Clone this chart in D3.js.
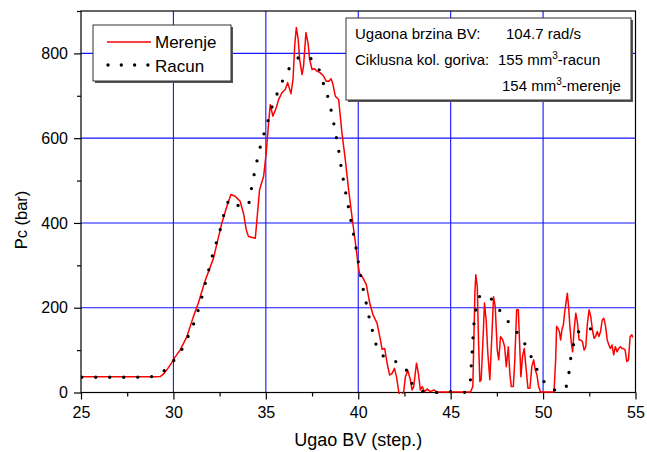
<!DOCTYPE html>
<html><head><meta charset="utf-8">
<script src="https://cdn.jsdelivr.net/npm/d3@7"></script>
<style>body{margin:0;background:#fff;} text{font-family:"Liberation Sans",Arial,sans-serif;fill:#000;}</style>
</head><body><svg id="c" width="647" height="452"></svg>
<script>
// ---- data ----
const xTicks=[25,30,35,40,45,50,55];
const xMinor=[27.5,32.5,37.5,42.5,47.5,52.5];
const yTicks=[0,200,400,600,800];
const yMinor=[100,300,500,700,900];
const xTitle="Ugao BV (step.)";
const yTitle="Pc (bar)";
const seriesNames=["Merenje","Racun"];

const merenjeAngle=[25,26,27,28,29,29.3,29.5,29.7,29.9,30.05,30.36,30.73,31.08,31.35,31.7,32.17,32.62,32.89,33.11,33.34,33.61,33.79,33.94,34.06,34.43,34.52,34.66,34.88,35.02,35.15,35.24,35.38,35.56,35.69,35.87,36.05,36.18,36.36,36.47,36.56,36.65,36.75,36.83,36.96,37.04,37.17,37.28,37.37,37.5,37.62,37.77,37.95,38.13,38.27,38.4,38.53,38.63,38.76,38.94,39.12,39.3,39.48,39.66,39.84,40.0,40.06,40.26,40.44,40.62,40.8,41.02,41.2,41.29,41.43,41.56,41.7,41.83,41.96,42.07,42.19,42.3,42.46,42.55,42.68,42.82,42.91,43.0,43.15,43.24,43.36,43.46,43.58,43.73,43.9,44.09,44.27,46.07,46.2,46.25,46.31,46.36,46.44,46.51,46.58,46.65,46.74,46.83,46.92,47.01,47.12,47.21,47.32,47.41,47.52,47.6,47.7,47.82,47.92,48.01,48.12,48.2,48.28,48.39,48.47,48.57,48.66,48.73,48.8,48.89,48.98,49.07,49.18,49.29,49.39,49.49,49.58,49.67,49.76,49.86,50.59,50.68,50.73,50.8,50.88,50.95,51.02,51.1,51.16,51.25,51.31,51.38,51.45,51.53,51.6,51.67,51.77,51.86,51.95,52.04,52.13,52.22,52.31,52.4,52.49,52.58,52.67,52.76,52.84,52.93,53.02,53.11,53.2,53.29,53.38,53.47,53.56,53.64,53.73,53.82,53.91,54.0,54.09,54.18,54.27,54.35,54.44,54.53,54.62,54.71,54.8,54.85];
const merenjePc=[37,37,37,37,37,38,45,57,70,81,100,132,179,211,262,317,400,439,467,463,451,423,384,368,364,408,478,510,565,636,679,652,671,691,707,715,731,705,738,817,861,833,786,750,770,849,825,786,762,764,758,754,746,734,734,740,727,699,691,612,549,478,415,355,300,282,270,254,211,183,163,124,102,104,69,41,45,57,37,2,-15,2,37,52,30,6,14,69,49,6,14,2,8,2,6,1,1,14,116,234,278,250,116,26,30,116,211,171,93,30,116,226,203,100,77,132,124,108,61,108,45,14,14,77,195,195,116,37,85,104,61,10,10,61,77,53,41,14,1,1,77,156,152,144,124,148,160,187,215,234,203,156,116,96,144,187,164,124,124,120,100,108,164,195,179,148,128,132,144,132,144,171,175,156,124,112,104,112,89,108,96,104,108,104,104,100,73,77,132,136,130];

const racunAngle=[25.04,25.76,26.48,27.2,27.9,28.7,29.4,30.05,30.54,30.87,31.19,31.4,31.8,32.2,32.38,32.58,32.76,33.07,33.35,33.61,34.05,34.19,34.33,34.48,34.64,34.84,35.06,35.29,35.55,35.84,36.2,36.5,36.83,37.2,37.54,37.95,38.18,38.4,38.58,38.71,38.85,38.98,39.08,39.21,39.34,39.48,39.61,39.75,39.88,40.0,40.13,40.26,40.42,40.57,40.75,40.93,41.27,41.6,42.03,42.63,42.94,43.55,44.27,44.99,45.71,46.07,46.11,46.16,46.2,46.25,46.33,46.47,46.7,46.98,47.3,47.6,48.12,48.69,49.15,49.47,49.83,50.41,50.8,51.13,51.37,51.45,51.58,51.76,52.25,52.94];
const racunPc=[36,36,36,36,36,37,48,77,108,140,173,203,270,337,362,392,425,455,450,437,443,474,506,538,569,602,632,668,698,729,760,778,791,793,783,754,719,691,656,627,593,561,530,498,467,435,404,372,341,309,276,245,213,181,149,118,90,80,73,51,19,2,0,2,0,30,61,93,124,156,187,219,230,229,215,197,167,136,104,73,41,10,5,6,36,67,99,130,154,140];

const infoText=[
  {t:"Ugaona brzina BV:", x:355, y:39},
  {t:"104.7 rad/s", x:506, y:39},
  {t:"Ciklusna kol. goriva:", x:355, y:65},
  {t:"155 mm", sup:"3", after:"-racun", x:498, y:65},
  {t:"154 mm", sup:"3", after:"-merenje", x:502, y:91}
];

// ---- drawing ----
const svg=d3.select("#c");
const L=81,R=635.5,T=11,B=392.5;
const x=d3.scaleLinear().domain([25,55]).range([L,R]);
const y=d3.scaleLinear().domain([0,900]).range([B,T]);

svg.append("rect").attr("width",647).attr("height",452).attr("fill","#fff");

// grid
const g=svg.append("g");
g.selectAll(".vg").data(xTicks.filter(d=>d>25&&d<55)).join("line")
  .attr("x1",d=>x(d)).attr("x2",d=>x(d)).attr("y1",T).attr("y2",B)
  .attr("stroke","#1414ff").attr("stroke-width",1.1);
g.selectAll(".hg").data(yTicks.filter(d=>d>0)).join("line")
  .attr("y1",d=>y(d)).attr("y2",d=>y(d)).attr("x1",L).attr("x2",R)
  .attr("stroke","#1414ff").attr("stroke-width",1.1);

// axes
const fs=16;
const xa=svg.append("g").attr("transform",`translate(0,${B})`)
  .call(d3.axisBottom(x).tickValues(xTicks).tickSize(7).tickPadding(7).tickFormat(d3.format("d")));
const xm=svg.append("g").attr("transform",`translate(0,${B})`)
  .call(d3.axisBottom(x).tickValues(xMinor).tickSize(4).tickFormat(""));
const ya=svg.append("g").attr("transform",`translate(${L},0)`)
  .call(d3.axisLeft(y).tickValues(yTicks).tickSize(7).tickPadding(6).tickFormat(d3.format("d")));
const ym=svg.append("g").attr("transform",`translate(${L},0)`)
  .call(d3.axisLeft(y).tickValues(yMinor).tickSize(4).tickFormat(""));
[xa,xm,ya,ym].forEach(a=>{
  a.select(".domain").remove();
  a.selectAll("line").attr("stroke","#000").attr("stroke-width",1.2);
  a.selectAll("text").attr("font-size",fs).attr("font-family","Liberation Sans, Arial, sans-serif").attr("fill","#000");
});

// frame
svg.append("rect").attr("x",L).attr("y",T).attr("width",R-L).attr("height",B-T)
  .attr("fill","none").attr("stroke","#000").attr("stroke-width",1.2);

// clip
svg.append("clipPath").attr("id","clip").append("rect")
  .attr("x",L).attr("y",T).attr("width",R-L).attr("height",B-T+1.5);

// series
const mData=merenjeAngle.map((a,i)=>[a,merenjePc[i]]);
const rData=racunAngle.map((a,i)=>[a,racunPc[i]]);
const line=d3.line().x(d=>x(d[0])).y(d=>y(d[1]));
const plot=svg.append("g").attr("clip-path","url(#clip)");
plot.append("path").attr("d",line.curve(d3.curveLinear)(mData))
  .attr("fill","none").attr("stroke","#ff0000").attr("stroke-width",1.5).attr("stroke-linejoin","round");
plot.append("path").attr("d",d3.line().x(d=>x(d[0])).y(d=>y(d[1])).curve(d3.curveMonotoneX)(rData))
  .attr("fill","none").attr("stroke","#000").attr("stroke-width",3.3)
  .attr("stroke-linecap","round").attr("stroke-dasharray","0 14");

// axis titles
svg.append("text").attr("x",(L+R)/2).attr("y",446).attr("text-anchor","middle")
  .attr("font-size",18).text(xTitle);
svg.append("text").attr("transform","translate(27,220) rotate(-90)").attr("text-anchor","middle")
  .attr("font-size",16.5).text(yTitle);

// legend
const lg=svg.append("g");
lg.append("rect").attr("x",95).attr("y",27).attr("width",138).attr("height",56).attr("fill","#555");
lg.append("rect").attr("x",93).attr("y",25).attr("width",138).attr("height",56).attr("fill","#fff")
  .attr("stroke","#333").attr("stroke-width",1);
lg.append("line").attr("x1",107).attr("x2",151).attr("y1",42).attr("y2",42)
  .attr("stroke","#ff0000").attr("stroke-width",1.5);
lg.append("line").attr("x1",108).attr("x2",149).attr("y1",65).attr("y2",65)
  .attr("stroke","#000").attr("stroke-width",3.3).attr("stroke-linecap","round").attr("stroke-dasharray","0 13.3");
lg.append("text").attr("x",155).attr("y",48).attr("font-size",17).text(seriesNames[0]);
lg.append("text").attr("x",155).attr("y",72).attr("font-size",17).text(seriesNames[1]);

// info box
const ib=svg.append("g");
ib.append("rect").attr("x",348).attr("y",20).attr("width",285).attr("height",82).attr("fill","#555");
ib.append("rect").attr("x",346).attr("y",18).attr("width",285).attr("height",82).attr("fill","#fff")
  .attr("stroke","#333").attr("stroke-width",1);
infoText.forEach(d=>{
  const t=ib.append("text").attr("x",d.x).attr("y",d.y).attr("font-size",15);
  t.append("tspan").text(d.t);
  if(d.sup){
    t.append("tspan").attr("font-size",10).attr("dy",-6).text(d.sup);
    t.append("tspan").attr("dy",6).text(d.after);
  }
});
</script>
</body></html>
